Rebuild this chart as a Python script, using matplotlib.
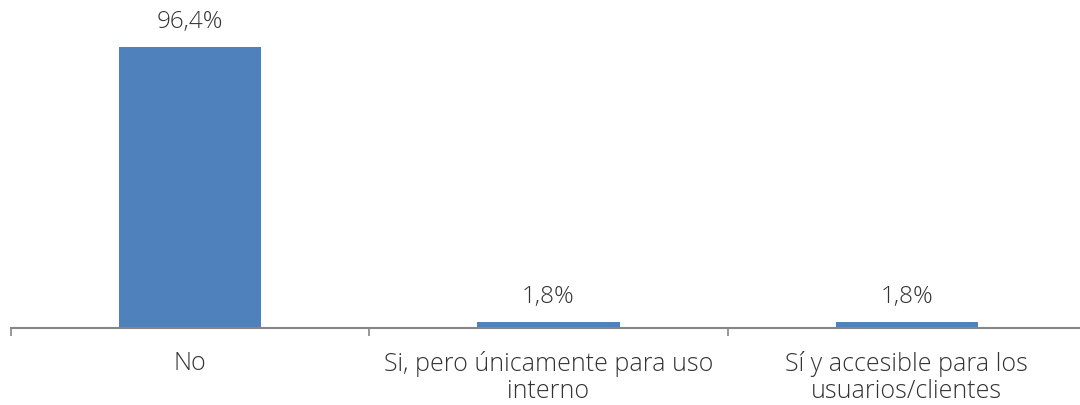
import matplotlib
matplotlib.use("Agg")
import matplotlib.pyplot as plt

categories = ["No", "Si, pero únicamente para uso\ninterno", "Sí y accesible para los\nusuarios/clientes"]
values = [96.4, 1.8, 1.8]
value_labels = ["96,4%", "1,8%", "1,8%"]

plt.rcParams['font.family'] = ['Open Sans', 'DejaVu Sans']

fig = plt.figure(figsize=(10.8, 4.05), dpi=100)
W, H = 1080, 405
ax_left, ax_right = 11, 11 + 3 * 358.3
ax_bottom, ax_top = 327.7, 0
ax = fig.add_axes([ax_left / W, 1 - ax_bottom / H, (ax_right - ax_left) / W, (ax_bottom - ax_top) / H])

x = list(range(len(categories)))
ax.bar(x, values, width=0.397, color="#4F81BD", zorder=2)
ax.set_xlim(-0.5, 2.5)
ax.set_ylim(0, 327.7 / (280.7 / 96.4))

for xi, v, lab in zip(x, values, value_labels):
    ax.annotate(lab, (xi, v), xytext=(0, 18), textcoords="offset points",
                ha="center", va="center", fontsize=17.5, color="#333333",
                fontweight="light")

for s in ["top", "right", "left"]:
    ax.spines[s].set_visible(False)
ax.spines["bottom"].set_color("#868686")
ax.spines["bottom"].set_linewidth(1.5)
ax.set_yticks([])
ax.set_xticks([-0.5, 0.5, 1.5, 2.5])
ax.set_xticklabels([])
ax.tick_params(axis="x", length=6, width=1.2, color="#868686")
ax.set_xticks(x, minor=True)
ax.set_xticklabels(categories, minor=True, fontsize=18, color="#333333",
                   fontweight="light", linespacing=1.1)
ax.tick_params(axis="x", which="minor", length=0, pad=17)

fig.savefig("out.png", dpi=100)
